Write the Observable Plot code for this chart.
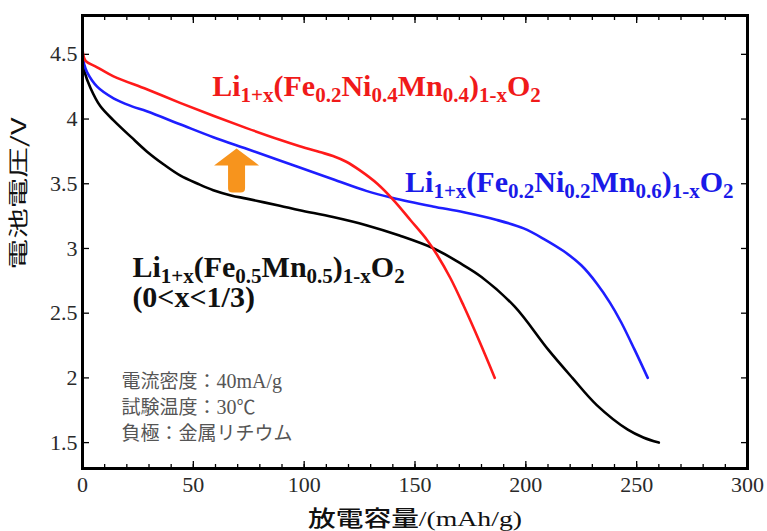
<!DOCTYPE html>
<html><head><meta charset="utf-8">
<script src="https://cdn.jsdelivr.net/npm/d3@7"></script>
<script src="https://cdn.jsdelivr.net/npm/@observablehq/plot@0.6"></script>
<style>body{margin:0;background:#fff} svg{display:block}</style>
</head><body><div id="chart"></div>
<script>
// Discharge curves: [capacity mAh/g, voltage V]
const redCurve = [[0,4.6],[0.3,4.5],[1.4,4.45],[6.6,4.40],[14,4.33],[29,4.23],[44,4.125],[59,4.025],[74,3.93],[89,3.84],[98,3.79],[107,3.745],[113,3.715],[119,3.67],[125,3.605],[133,3.50],[140.4,3.372],[148,3.218],[155.5,3.064],[160,2.95],[166,2.77],[172,2.555],[179,2.285],[186,2.0]];
const blueCurve = [[0,4.5],[0.8,4.42],[2.1,4.36],[6.6,4.25],[14,4.16],[22,4.10],[29,4.06],[44,3.96],[59,3.86],[74,3.77],[89,3.68],[98,3.625],[113,3.535],[128,3.445],[140,3.39],[158,3.325],[172,3.28],[187,3.22],[199,3.155],[208,3.075],[217,2.98],[225,2.87],[232,2.73],[238,2.58],[243,2.43],[249,2.22],[255,2.0]];
const blackCurve = [[0,4.47],[1,4.36],[3.6,4.24],[8,4.10],[14,3.99],[22,3.86],[29,3.75],[37,3.645],[44,3.565],[52,3.50],[59,3.45],[67,3.41],[74,3.385],[89,3.33],[98,3.295],[113,3.243],[128,3.18],[143,3.10],[158.5,3.0],[170,2.89],[180,2.78],[195,2.55],[210,2.22],[221,2.0],[232,1.79],[246,1.60],[253,1.54],[260,1.50]];

const xTicks = [0,50,100,150,200,250,300];
const xMinorTicks = d3.range(0, 301, 10);
const yTicks = [1.5,2,2.5,3,3.5,4,4.5];

const formulaLabels = [
  {cap: 58.5, volt: 4.18, text: "Li_{1+x}(Fe_{0.2}Ni_{0.4}Mn_{0.4})_{1-x}O_{2}", color: "#f01a1a"},
  {cap: 145.5, volt: 3.433, text: "Li_{1+x}(Fe_{0.2}Ni_{0.2}Mn_{0.6})_{1-x}O_{2}", color: "#1a1ae8"},
  {cap: 22.5, volt: 2.78, text: "Li_{1+x}(Fe_{0.5}Mn_{0.5})_{1-x}O_{2}", color: "#111"},
  {cap: 22.5, volt: 2.549, text: "(0<x<1/3)", color: "#111"}
];
const notes = [
  {cap: 17.6, volt: 1.97, text: "電流密度：40mA/g"},
  {cap: 17.6, volt: 1.77, text: "試験温度：30℃"},
  {cap: 17.6, volt: 1.57, text: "負極：金属リチウム"}
];
const arrowPos = [{cap: 69.5, volt: 3.433}];
const xLabel = "放電容量/(mAh/g)";
const yLabel = "電池電圧/V";

const fmt = d3.format("~g");
const none = () => "";
const serif = "'Liberation Serif', 'Times New Roman', serif";
const cjk = "'Noto Sans CJK JP', sans-serif";
const arrowShape = {
  draw(ctx, l) {
    ctx.moveTo(-8.5, -4);
    ctx.quadraticCurveTo(-8.5, 0, -4, 0);
    ctx.lineTo(4, 0);
    ctx.quadraticCurveTo(8.5, 0, 8.5, -4);
    ctx.lineTo(8.5, -27);
    ctx.lineTo(22.5, -27);
    ctx.lineTo(0, -l);
    ctx.lineTo(-22.5, -27);
    ctx.lineTo(-8.5, -27);
    ctx.closePath();
  }
};

const chart = Plot.plot({
  width: 767, height: 531,
  marginLeft: 82, marginRight: 20, marginTop: 15, marginBottom: 63,
  style: {fontFamily: serif, fontSize: "22px", color: "#000", background: "#fff", overflow: "visible"},
  x: {domain: [0, 300]},
  y: {domain: [1.3, 4.8]},
  color: {type: "identity"},
  marks: [
    Plot.axisX(xMinorTicks, {tickSize: -4, tickFormat: none, label: null, strokeWidth: 1.3}),
    Plot.axisX(xTicks, {tickSize: -7, tickFormat: none, label: null, strokeWidth: 1.3}),
    Plot.axisX(xMinorTicks, {anchor: "top", tickSize: -4, tickFormat: none, label: null, strokeWidth: 1.3}),
    Plot.axisX(xTicks, {anchor: "top", tickSize: -7, tickFormat: none, label: null, strokeWidth: 1.3}),
    Plot.axisY(yTicks, {tickSize: -7, tickFormat: none, label: null, strokeWidth: 1.3}),
    Plot.axisY(yTicks, {anchor: "right", tickSize: -7, tickFormat: none, label: null, strokeWidth: 1.3}),
    Plot.text(xTicks, {x: d => d, text: d => fmt(d), frameAnchor: "bottom", dy: 8, lineAnchor: "top", textAnchor: "middle", fontSize: 22, fontFamily: serif, fill: "#2a2a2a"}),
    Plot.text(yTicks, {y: d => d, text: d => fmt(d), frameAnchor: "left", dx: -5, lineAnchor: "middle", textAnchor: "end", fontSize: 22, fontFamily: serif, fill: "#2a2a2a"}),
    Plot.line(blackCurve, {x: d => d[0], y: d => d[1], stroke: "#000", strokeWidth: 2.6, curve: "catmull-rom"}),
    Plot.line(blueCurve, {x: d => d[0], y: d => d[1], stroke: "#1e1eff", strokeWidth: 2.6, curve: "catmull-rom"}),
    Plot.line(redCurve, {x: d => d[0], y: d => d[1], stroke: "#ff1a1a", strokeWidth: 2.6, curve: "catmull-rom"}),
    Plot.vector(arrowPos, {x: "cap", y: "volt", shape: arrowShape, anchor: "start", length: 44, fill: "#f7941d", stroke: "none"}),
    Plot.text(formulaLabels, {x: "cap", y: "volt", text: "text", fill: "color", textAnchor: "start", lineAnchor: "bottom", fontSize: 30, fontWeight: "bold", fontFamily: serif}),
    Plot.text(notes, {x: "cap", y: "volt", text: "text", fill: "#555", textAnchor: "start", lineAnchor: "middle", fontSize: 19, fontFamily: cjk}),
    Plot.text([yLabel], {frameAnchor: "left", y: () => 3.425, dx: -63, rotate: -90, textAnchor: "middle", lineAnchor: "middle", fontSize: 20, fill: "#111", fontFamily: cjk}),
    Plot.text([xLabel], {frameAnchor: "bottom", dy: 50, textAnchor: "middle", lineAnchor: "middle", fontSize: 22, fill: "#111", fontFamily: cjk}),
    Plot.frame({stroke: "#000", strokeWidth: 3})
  ]
});

document.getElementById("chart").appendChild(chart);

const NS = "http://www.w3.org/2000/svg";
const noteTexts = new Set(notes.map(d => d.text));
d3.select(chart).selectAll("text").each(function() {
  const t = this.textContent;
  if (t.includes("_{")) {
    const parts = t.split(/(_\{[^}]*\})/).filter(s => s);
    this.textContent = "";
    let sub = false;
    for (const p of parts) {
      const ts = document.createElementNS(NS, "tspan");
      if (p.startsWith("_{")) {
        ts.textContent = p.slice(2, -1);
        ts.setAttribute("font-size", 21);
        ts.setAttribute("dy", sub ? 0 : 6);
        sub = true;
      } else {
        ts.textContent = p;
        ts.setAttribute("dy", sub ? -6 : 0);
        sub = false;
      }
      this.appendChild(ts);
    }
  } else if (noteTexts.has(t)) {
    const parts = t.split(/([A-Za-z0-9\/]+)/).filter(s => s);
    this.textContent = "";
    for (const p of parts) {
      const ts = document.createElementNS(NS, "tspan");
      ts.textContent = p;
      if (/^[A-Za-z0-9\/]+$/.test(p)) { ts.setAttribute("font-family", serif); ts.setAttribute("font-size", 20); }
      this.appendChild(ts);
    }
  } else if (t === xLabel) {
    this.textContent = "";
    const a = document.createElementNS(NS, "tspan");
    a.textContent = "放電容量";
    a.setAttribute("font-weight", "500");
    const b = document.createElementNS(NS, "tspan");
    b.textContent = "/(mAh/g)";
    b.setAttribute("font-family", serif);
    this.appendChild(a); this.appendChild(b);
    this.setAttribute("textLength", 214);
    this.setAttribute("lengthAdjust", "spacingAndGlyphs");
  } else if (t === yLabel) {
    this.setAttribute("textLength", 152);
    this.setAttribute("lengthAdjust", "spacingAndGlyphs");
  }
});
</script>
</body></html>
